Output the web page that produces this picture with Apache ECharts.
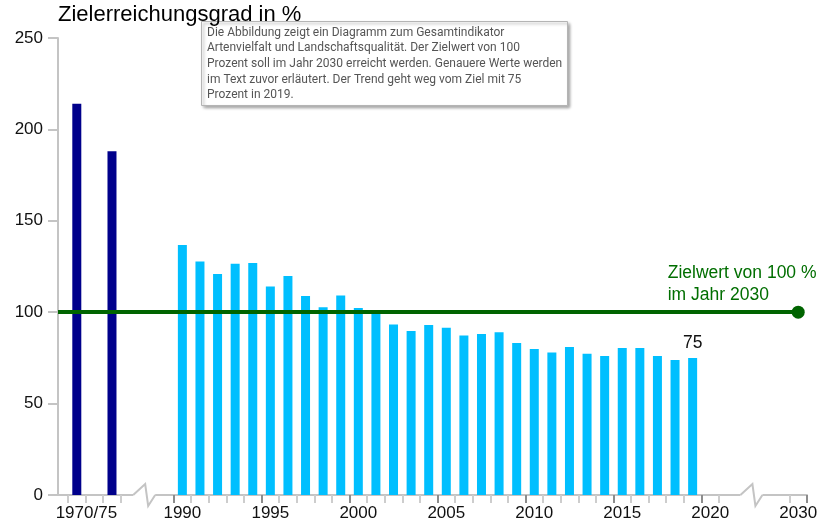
<!DOCTYPE html>
<html><head><meta charset="utf-8">
<script src="https://cdn.jsdelivr.net/npm/echarts@6/dist/echarts.min.js"></script>
<style>html,body{margin:0;padding:0;background:#fff}#c{width:821px;height:526px}</style>
</head><body><div id="c"></div>
<script>
// ---- data ----
const oldYears = ['1970', '1975'];
const oldValues = [214, 188];
const mainYears = ['1990','1991','1992','1993','1994','1995','1996','1997','1998','1999',
                   '2000','2001','2002','2003','2004','2005','2006','2007','2008','2009',
                   '2010','2011','2012','2013','2014','2015','2016','2017','2018','2019'];
const mainValues = [136.8, 127.8, 120.9, 126.5, 126.9, 114.0, 119.8, 108.9, 102.7, 109.2,
                    102.3, 100.0, 93.3, 89.7, 93.0, 91.5, 87.2, 88.1, 89.0, 83.2,
                    79.9, 77.9, 81.0, 77.3, 76.0, 80.4, 80.4, 76.0, 73.8, 75.0];
const axisSlots = ['1970', '1970_', '1975', '1975_', 'gapA', 'gapB']
  .concat(mainYears, ['2020', '2021', 'gapC', 'gapD', 'gapE', '2030']);
const tickLabels = {'1970_': '1970/75', '1990': '1990', '1995': '1995', '2000': '2000', '2005': '2005',
                    '2010': '2010', '2015': '2015', '2020': '2020', '2030': '2030'};
const majorTickSlots = ['1990', '1995', '2000', '2005', '2010', '2015', '2020'];
const hiddenTickSlots = ['gapA', 'gapB', 'gapC', 'gapD', 'gapE'];
const yTicks = [0, 50, 100, 150, 200, 250];
const targetValue = 100;
const targetSlot = '2030';
const labelledYear = '2019';
const titleText = 'Zielerreichungsgrad in %';
const targetText = 'Zielwert von 100 %\nim Jahr 2030';
const noteText = 'Die Abbildung zeigt ein Diagramm zum Gesamtindikator\nArtenvielfalt und Landschaftsqualität. Der Zielwert von 100\nProzent soll im Jahr 2030 erreicht werden. Genauere Werte werden\nim Text zuvor erläutert. Der Trend geht weg vom Ziel mit 75\nProzent in 2019.';

// ---- build ----
const valueBySlot = {};
oldYears.forEach((y, i) => valueBySlot[y] = oldValues[i]);
mainYears.forEach((y, i) => valueBySlot[y] = mainValues[i]);
const barData = axisSlots.map(s => (s in valueBySlot ? valueBySlot[s] : null));

const FONT = 'Liberation Sans, Arial, sans-serif';
const AXIS_GREY = '#c4c4c4';
const GREEN = '#006400';
const GRID_LEFT = 68, Y_OFFSET = 10;

const chart = echarts.init(document.getElementById('c'), null, {renderer: 'canvas'});
chart.setOption({
  animation: false,
  title: [
    {text: titleText, left: 58, top: 4, padding: 0,
     textStyle: {fontFamily: FONT, fontSize: 22, fontWeight: 'normal', color: '#000'}},
    {text: noteText, left: 201, top: 21, padding: [4, 6, 3, 6],
     backgroundColor: '#fff', borderColor: '#b4b4b4', borderWidth: 1,
     shadowBlur: 3, shadowColor: 'rgba(0,0,0,0.35)', shadowOffsetX: 2, shadowOffsetY: 2,
     textStyle: {fontFamily: 'Roboto, sans-serif', fontSize: 12, fontWeight: 'normal',
                 color: '#555', lineHeight: 15.6, width: 350}}
  ],
  grid: {left: GRID_LEFT, right: 14, top: 38, bottom: 31, containLabel: false},
  xAxis: [
    {type: 'category', data: axisSlots, position: 'bottom',
     axisLine: {show: true, lineStyle: {color: AXIS_GREY, width: 2}},
     axisTick: {show: true, length: 8, lineStyle: {color: '#cdcdcd', width: 2},
                interval: (i) => !hiddenTickSlots.includes(axisSlots[i]) && !majorTickSlots.includes(axisSlots[i])},
     axisLabel: {show: true, interval: 0, margin: 10, color: '#111', fontFamily: FONT, fontSize: 17,
                 formatter: (v) => {
                   const t = tickLabels[v] || '';
                   return v === '1970_' ? '{o|' + t + '}' : t;
                 },
                 rich: {o: {padding: [0, 16, 0, 0], fontFamily: FONT, fontSize: 17, color: '#111'}}},
     splitLine: {show: false}},
    {type: 'category', data: axisSlots, position: 'bottom',
     axisLine: {show: false},
     axisTick: {show: true, length: 8, lineStyle: {color: '#8c8c8c', width: 2},
                interval: (i) => majorTickSlots.includes(axisSlots[i])},
     axisLabel: {show: false}, splitLine: {show: false}}
  ],
  yAxis: {type: 'value', min: 0, max: 250, interval: 50, offset: Y_OFFSET,
          axisLine: {show: true, lineStyle: {color: AXIS_GREY, width: 2}},
          axisTick: {show: true, length: 10, lineStyle: {color: AXIS_GREY, width: 2}},
          axisLabel: {margin: 15, color: '#111', fontFamily: FONT, fontSize: 17,
                      formatter: (v) => (yTicks.includes(v) ? String(v) : '')},
          splitLine: {show: false}},
  series: [{
    type: 'bar', xAxisIndex: 0, data: barData, barWidth: 9,
    itemStyle: {color: (p) => (oldYears.includes(p.name) ? '#00008b' : '#00bfff')},
    label: {show: true, position: 'top', distance: 6, color: '#111', fontFamily: FONT, fontSize: 17.5,
            formatter: (p) => (p.name === labelledYear ? String(Math.round(p.value)) : '')},
    markLine: {silent: true, symbol: ['none', 'none'], label: {show: false},
               lineStyle: {color: GREEN, width: 4, type: 'solid'},
               emphasis: {disabled: true},
               data: [[{x: GRID_LEFT - Y_OFFSET, yAxis: targetValue}, {xAxis: targetSlot, yAxis: targetValue}]]},
    markPoint: {silent: true, symbol: 'circle', symbolSize: 13, itemStyle: {color: GREEN},
                label: {show: true, formatter: targetText, position: [-124, -44], align: 'left',
                        verticalAlign: 'top', color: '#006e00', fontFamily: FONT, fontSize: 17.5, lineHeight: 22},
                data: [{coord: [targetSlot, targetValue]}]}
  }]
});

// decorative axis breaks (zigzags) and axis-line joint
const y0 = chart.convertToPixel({yAxisIndex: 0}, 0);
const cx = (slot) => chart.convertToPixel({xAxisIndex: 0}, axisSlots.indexOf(slot));
function zig(c) {
  return [
    {type: 'rect', shape: {x: c - 11, y: y0 - 2, width: 22, height: 4}, style: {fill: '#fff'}, z: 100},
    {type: 'polyline', shape: {points: [[c - 11, y0], [c + 1, y0 - 11], [c + 4, y0 + 11], [c + 11, y0]]},
     style: {stroke: AXIS_GREY, lineWidth: 2, fill: null}, z: 101}
  ];
}
chart.setOption({graphic: [].concat(
  zig(cx('gapA') - 3),
  zig(cx('gapC') + 6),
  [{type: 'line', shape: {x1: GRID_LEFT - Y_OFFSET, y1: y0, x2: GRID_LEFT, y2: y0},
    style: {stroke: AXIS_GREY, lineWidth: 2}, z: 100}]
)});
</script></body></html>
